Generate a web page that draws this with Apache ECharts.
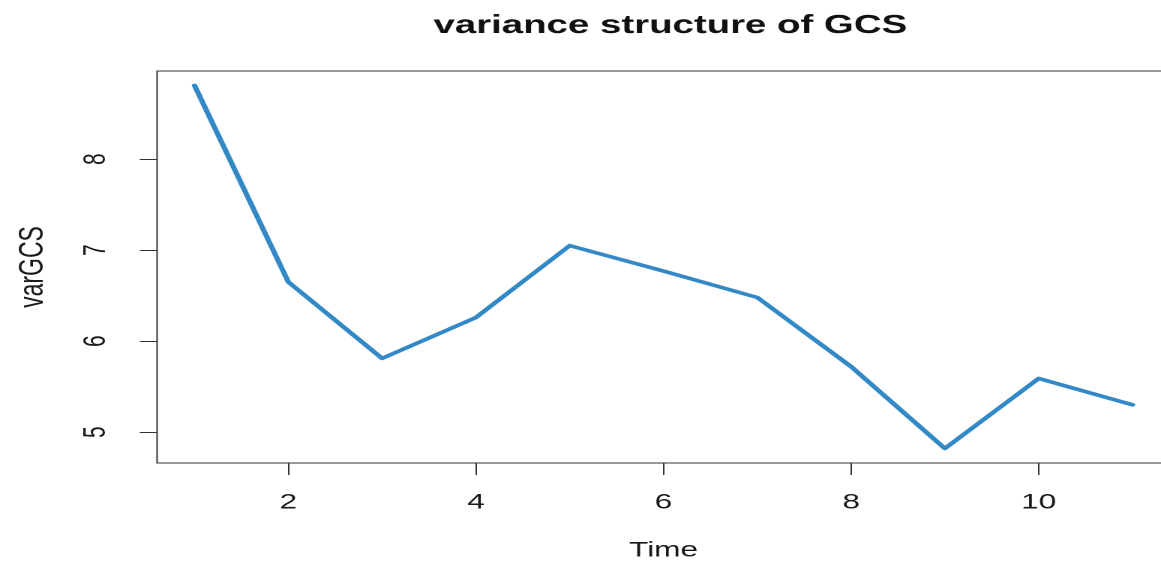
<!DOCTYPE html>
<html>
<head>
<meta charset="utf-8">
<title>variance structure of GCS</title>
<script src="https://cdn.jsdelivr.net/npm/echarts@6/dist/echarts.min.js"></script>
<style>
  html, body { margin: 0; padding: 0; background: #ffffff; overflow: hidden; }
  /* page-sized frame; the figure inside is widened horizontally and its right edge is clipped */
  #frame { position: relative; width: 1161px; height: 561px; overflow: hidden; background: #ffffff; }
  #chart { position: absolute; left: 0; top: 0; width: 780px; height: 561px; transform: scaleX(1.5); transform-origin: 0 0; }
</style>
</head>
<body>
<div id="frame"><div id="chart"></div></div>
<script>
// Time points and the variance of GCS at each of them
const timePoints = [1, 2, 3, 4, 5, 6, 7, 8, 9, 10, 11];
const varGCS = [8.81, 6.65, 5.81, 6.26, 7.05, 6.77, 6.48, 5.72, 4.82, 5.59, 5.30];
const xTicks = [2, 4, 6, 8, 10];
const yTicks = [5, 6, 7, 8];

const font = "'Liberation Sans', Arial, sans-serif";
const ink = '#1a1a1a';

// R-style 4% padding around the data range
const xLo = Math.min(...timePoints), xHi = Math.max(...timePoints);
const yLo = Math.min(...varGCS), yHi = Math.max(...varGCS);
const xPad = (xHi - xLo) * 0.04, yPad = (yHi - yLo) * 0.04;

const chart = echarts.init(document.getElementById('chart'), null, { renderer: 'canvas', devicePixelRatio: 2 });
chart.setOption({
  animation: false,
  backgroundColor: '#ffffff',
  title: {
    text: 'variance structure of GCS',
    left: 284,
    top: 8,
    textStyle: { fontFamily: font, fontWeight: 'bold', fontSize: 25.6, color: '#111111' }
  },
  grid: {
    left: 104.7, right: 0, top: 71, bottom: 98,
    outerBoundsMode: 'none',
    show: true, borderColor: '#333333', borderWidth: 1, backgroundColor: 'transparent'
  },
  xAxis: {
    type: 'value',
    min: xLo - xPad, max: xHi + xPad,
    name: 'Time', nameLocation: 'middle', nameGap: 77,
    nameTextStyle: { fontFamily: font, fontSize: 21, color: ink, verticalAlign: 'top' },
    axisLine: { show: false },
    splitLine: { show: false },
    axisTick: { show: true, customValues: xTicks, length: 12, lineStyle: { color: '#333333', width: 1 } },
    axisLabel: { customValues: xTicks, margin: 29, fontFamily: font, fontSize: 21, color: ink }
  },
  yAxis: {
    type: 'value',
    min: yLo - yPad, max: yHi + yPad,
    name: 'varGCS', nameLocation: 'middle', nameGap: 71,
    nameTextStyle: { fontFamily: font, fontSize: 23, color: ink },
    axisLine: { show: false },
    splitLine: { show: false },
    axisTick: { show: true, customValues: yTicks, length: 11.5, lineStyle: { color: '#333333', width: 1 } },
    axisLabel: { customValues: yTicks, rotate: 90, margin: 30, fontFamily: font, fontSize: 21, color: ink }
  },
  series: [{
    type: 'line',
    data: timePoints.map((t, i) => [t, varGCS[i]]),
    showSymbol: false,
    symbol: 'none',
    lineStyle: { color: '#3389c6', width: 3.6, cap: 'round', join: 'round' },
    emphasis: { disabled: true }
  }]
});
</script>
</body>
</html>
